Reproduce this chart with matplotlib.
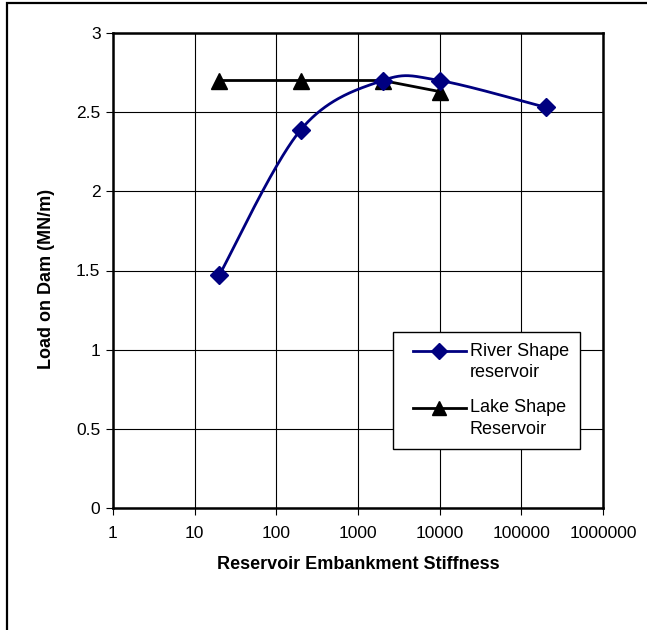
import numpy as np
import matplotlib
matplotlib.use("Agg")
import matplotlib.pyplot as plt
from matplotlib.patches import Rectangle
from matplotlib.lines import Line2D
from matplotlib.legend_handler import HandlerLine2D
from matplotlib.ticker import FixedLocator, FixedFormatter, NullLocator

plt.rcParams['font.family'] = ['Liberation Sans', 'DejaVu Sans']

stiffness_river = [20, 200, 2000, 10000, 200000]
load_river = [1.47, 2.39, 2.70, 2.70, 2.53]
stiffness_lake = [20, 200, 2000, 10000]
load_lake = [2.70, 2.70, 2.70, 2.63]
x_ticks = [1, 10, 100, 1000, 10000, 100000, 1000000]
x_tick_labels = ["1", "10", "100", "1000", "10000", "100000", "1000000"]
y_ticks = [0, 0.5, 1, 1.5, 2, 2.5, 3]
y_tick_labels = ["0", "0.5", "1", "1.5", "2", "2.5", "3"]
series_labels = ['River Shape\nreservoir', 'Lake Shape\nReservoir']

W, H = 647, 630
fig = plt.figure(figsize=(W / 100, H / 100), dpi=100)
fig.patch.set_facecolor('white')

# outer chart border (clipped on right/bottom like the reference)
fig.add_artist(Rectangle((7 / W, -0.05), 1.2, (H - 3) / H + 0.05, transform=fig.transFigure,
                         fill=False, edgecolor='black', linewidth=1.6))

ax = fig.add_axes([113 / W, (H - 508) / H, 490 / W, 475 / H])
ax.set_xscale('log')
ax.set_xlim(1, 1000000)
ax.set_ylim(0, 3)
ax.xaxis.set_major_locator(FixedLocator(x_ticks))
ax.xaxis.set_major_formatter(FixedFormatter(x_tick_labels))
ax.xaxis.set_minor_locator(NullLocator())
ax.yaxis.set_major_locator(FixedLocator(y_ticks))
ax.yaxis.set_major_formatter(FixedFormatter(y_tick_labels))
ax.grid(True, color='black', linewidth=0.8)
ax.set_axisbelow(True)
for s in ax.spines.values():
    s.set_linewidth(1.8)
ax.tick_params(axis='both', direction='out', length=5, width=0.8, labelsize=12.5, colors='black')
ax.tick_params(axis='x', pad=8)
ax.tick_params(axis='y', pad=4)

ax.set_xlabel('Reservoir Embankment Stiffness', fontsize=13, fontweight='bold', labelpad=11)
ax.set_ylabel('Load on Dam (MN/m)', fontsize=13, fontweight='bold')
ax.yaxis.set_label_coords(-0.118, 0.482)

# Excel-style smoothed curve computed in display space
pts = ax.transData.transform(np.column_stack([stiffness_river, load_river]))
curve = []
n = len(pts)
for i in range(n - 1):
    p0 = pts[max(i - 1, 0)]
    p1 = pts[i]
    p2 = pts[i + 1]
    p3 = pts[min(i + 2, n - 1)]
    c1 = p1 + (p2 - p0) / 6.0
    c2 = p2 - (p3 - p1) / 6.0
    t = np.linspace(0, 1, 60)[:, None]
    seg = ((1 - t) ** 3) * p1 + 3 * ((1 - t) ** 2) * t * c1 + 3 * (1 - t) * t ** 2 * c2 + t ** 3 * p2
    curve.append(seg if i == 0 else seg[1:])
curve = np.vstack(curve)
curve_data = ax.transData.inverted().transform(curve)

navy = '#000080'
ax.plot(stiffness_lake, load_lake, color='black', linewidth=2, marker='^', markersize=11.5,
        markerfacecolor='black', markeredgecolor='black', zorder=3)
ax.plot(curve_data[:, 0], curve_data[:, 1], color=navy, linewidth=2, zorder=4)
ax.plot(stiffness_river, load_river, linestyle='none', marker='D', markersize=9.5,
        markerfacecolor=navy, markeredgecolor=navy, zorder=5)


class TopHandler(HandlerLine2D):
    def create_artists(self, legend, orig_handle, xdescent, ydescent, width, height,
                       fontsize, trans):
        arts = super().create_artists(legend, orig_handle, xdescent, ydescent, width,
                                      height, fontsize, trans)
        margin = 0.5 * fontsize
        x0 = -xdescent + margin
        x1 = -xdescent + width
        for a in arts:
            y = np.asarray(a.get_ydata(), dtype=float)
            ynew = y[0] + 0.62 * fontsize
            a.set_xdata(np.linspace(x0, x1, 3))
            a.set_ydata(np.full(3, ynew))
            a.set_markevery([1])
        return arts


h1 = Line2D([], [], color=navy, linewidth=2, marker='D', markersize=8,
            markerfacecolor=navy, markeredgecolor=navy)
h2 = Line2D([], [], color='black', linewidth=2, marker='^', markersize=10,
            markerfacecolor='black', markeredgecolor='black')
leg = ax.legend([h1, h2], series_labels,
                loc='upper left', bbox_to_anchor=(393 / W, (H - 332) / H),
                bbox_transform=fig.transFigure, fontsize=13, frameon=True, fancybox=False,
                edgecolor='black', framealpha=1, handlelength=3.45, handletextpad=0.2,
                labelspacing=1.0, borderpad=0.6, borderaxespad=0, numpoints=1,
                handler_map={Line2D: TopHandler()})
for txt in leg.get_texts():
    txt.set_linespacing(1.35)
leg.get_frame().set_linewidth(1.0)

fig.savefig('out.png', dpi=100, facecolor='white')
